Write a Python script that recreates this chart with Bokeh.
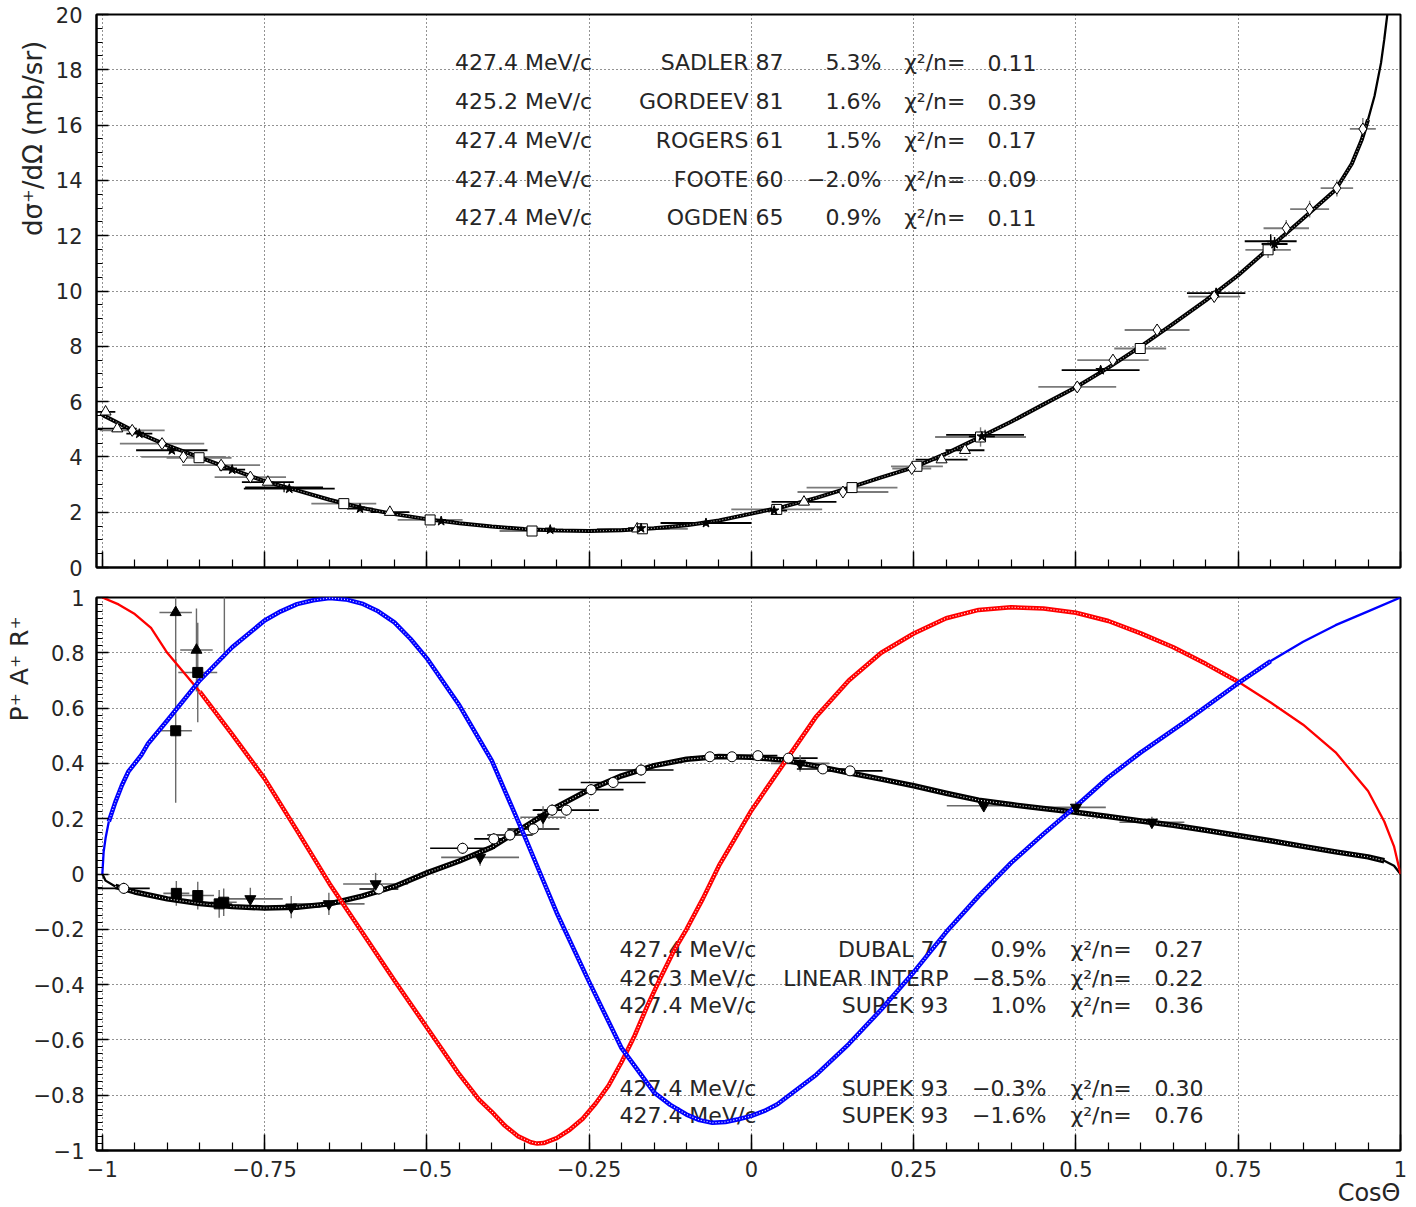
from bokeh.core.properties import value
from bokeh.embed import file_html
from bokeh.layouts import column
from bokeh.models import FixedTicker, Range1d, Title
from bokeh.plotting import figure
from bokeh.resources import INLINE

FONT = "DejaVu Sans"
INK = "#262626"

# ---------------------------------------------------------------- axes
X_TICKS = [-1, -0.75, -0.5, -0.25, 0, 0.25, 0.5, 0.75, 1]
X_TICK_LABELS = ["\u22121", "\u22120.75", "\u22120.5", "\u22120.25", "0", "0.25", "0.5", "0.75", "1"]
XS_TICKS = [0, 2, 4, 6, 8, 10, 12, 14, 16, 18, 20]
POL_TICKS = [-1, -0.8, -0.6, -0.4, -0.2, 0, 0.2, 0.4, 0.6, 0.8, 1]
POL_TICK_LABELS = ["\u22121", "\u22120.8", "\u22120.6", "\u22120.4", "\u22120.2", "0",
                   "0.2", "0.4", "0.6", "0.8", "1"]

# ---------------------------------------------------------------- cross section fit
XS_COS = [-1.0, -0.95, -0.9, -0.85, -0.8, -0.75, -0.7, -0.65, -0.6, -0.55, -0.5, -0.45,
          -0.4, -0.35, -0.3, -0.25, -0.2, -0.15, -0.1, -0.05, 0.0, 0.05, 0.1, 0.15, 0.2,
          0.25, 0.3, 0.35, 0.4, 0.45, 0.5, 0.55, 0.6, 0.65, 0.7, 0.75, 0.8, 0.85, 0.9,
          0.925, 0.94, 0.95, 0.96, 0.97, 0.975, 0.98, 0.985]
XS_FIT = [5.52, 4.92, 4.42, 3.98, 3.55, 3.12, 2.79, 2.45, 2.15, 1.93, 1.75, 1.60,
          1.48, 1.39, 1.34, 1.32, 1.35, 1.42, 1.53, 1.70, 1.95, 2.20, 2.52, 2.88, 3.26,
          3.62, 4.12, 4.69, 5.27, 5.90, 6.52, 7.23, 8.00, 8.82, 9.66, 10.57, 11.60, 12.62,
          13.66, 14.60, 15.45, 16.20, 17.05, 18.25, 19.10, 20.06, 21.50]

# ---------------------------------------------------------------- cross section data
SADLER_COS = [-0.995, -0.977, -0.745, -0.557, -0.176, 0.081, 0.293, 0.329]
SADLER_XS = [5.63, 5.02, 3.09, 2.00, 1.40, 2.37, 3.90, 4.24]
SADLER_DCOS = [0.015, 0.03, 0.04, 0.03, 0.05, 0.05, 0.04, 0.03]
SADLER_DXS = [0.15, 0.10, 0.08, 0.05, 0.04, 0.06, 0.08, 0.10]

GORDEEV_COS = [-0.851, -0.628, -0.495, -0.338, -0.168, 0.039, 0.155, 0.255, 0.353, 0.599, 0.796]
GORDEEV_XS = [3.97, 2.31, 1.72, 1.32, 1.40, 2.10, 2.89, 3.66, 4.72, 7.92, 11.49]
GORDEEV_DCOS = [0.05, 0.05, 0.05, 0.05, 0.07, 0.07, 0.07, 0.04, 0.07, 0.04, 0.035]
GORDEEV_DXS = [0.08, 0.05, 0.04, 0.04, 0.04, 0.05, 0.06, 0.08, 0.35, 0.15, 0.30]

ROGERS_COS = [-0.943, -0.893, -0.80, -0.712, -0.603, -0.478, -0.31, -0.17, -0.07, 0.035,
              0.355, 0.538, 0.716, 0.806]
ROGERS_XS = [4.84, 4.24, 3.54, 2.85, 2.13, 1.68, 1.37, 1.42, 1.61, 2.06, 4.74, 7.14, 9.92, 11.70]
ROGERS_DCOS = [0.02, 0.055, 0.02, 0.07, 0.02, 0.02, 0.02, 0.02, 0.07, 0.02, 0.02, 0.06, 0.045, 0.02]
ROGERS_DXS = [0.08, 0.08, 0.06, 0.06, 0.04, 0.04, 0.03, 0.03, 0.04, 0.05, 0.10, 0.15, 0.20, 0.25]

FOOTE_COS = [-0.954, -0.908, -0.875, -0.817, -0.772, 0.141, 0.247, 0.502, 0.557, 0.625,
             0.713, 0.824, 0.86, 0.902, 0.942]
FOOTE_XS = [4.96, 4.48, 4.00, 3.70, 3.27, 2.73, 3.58, 6.53, 7.50, 8.59, 9.80, 12.27,
            12.96, 13.72, 15.86]
FOOTE_DCOS = [0.05, 0.065, 0.065, 0.06, 0.055, 0.07, 0.03, 0.06, 0.055, 0.05, 0.04,
              0.035, 0.03, 0.025, 0.02]
FOOTE_DXS = [0.10, 0.10, 0.20, 0.10, 0.08, 0.06, 0.08, 0.15, 0.20, 0.20, 0.20, 0.30,
             0.30, 0.30, 0.40]

OGDEN_COS = [-0.72, 0.36, 0.80]
OGDEN_XS = [2.90, 4.80, 11.80]
OGDEN_DCOS = [0.06, 0.06, 0.04]
OGDEN_DXS = [0.08, 0.12, 0.25]

XS_MOMENTA = ["427.4  MeV/c", "425.2  MeV/c", "427.4  MeV/c", "427.4  MeV/c", "427.4  MeV/c"]
XS_REFS = ["SADLER 87", "GORDEEV 81", "ROGERS 61", "FOOTE 60", "OGDEN 65"]
XS_NORMS = ["5.3%", "1.6%", "1.5%", "\u22122.0%", "0.9%"]
XS_CHI2 = ["0.11", "0.39", "0.17", "0.09", "0.11"]

# ---------------------------------------------------------------- spin observables
POL_COS = [-1.0, -0.995, -0.98, -0.95, -0.9, -0.85, -0.8, -0.75, -0.7, -0.65, -0.6, -0.55,
           -0.5, -0.45, -0.4, -0.35, -0.3, -0.25, -0.2, -0.15, -0.1, -0.05, 0.0, 0.05,
           0.1, 0.15, 0.2, 0.25, 0.3, 0.35, 0.4, 0.45, 0.5, 0.55, 0.6, 0.65, 0.7, 0.75,
           0.8, 0.85, 0.9, 0.95, 0.975, 0.99, 1.0]
P_FIT = [0.0, -0.024, -0.045, -0.065, -0.09, -0.107, -0.118, -0.123, -0.12, -0.108, -0.08,
         -0.045, 0.004, 0.047, 0.097, 0.17, 0.243, 0.305, 0.355, 0.392, 0.415, 0.425, 0.422,
         0.412, 0.39, 0.366, 0.343, 0.319, 0.292, 0.267, 0.251, 0.237, 0.223, 0.208, 0.192,
         0.176, 0.158, 0.139, 0.12, 0.10, 0.08, 0.062, 0.048, 0.03, 0.0]

A_COS = [-1.0, -0.975, -0.95, -0.925, -0.9, -0.85, -0.8, -0.75, -0.7, -0.65, -0.6, -0.55,
         -0.5, -0.45, -0.42, -0.4, -0.38, -0.36, -0.34, -0.33, -0.32, -0.3, -0.28, -0.26,
         -0.24, -0.22, -0.2, -0.18, -0.16, -0.14, -0.12, -0.1, -0.075, -0.05, -0.025, 0.0,
         0.05, 0.1, 0.15, 0.2, 0.25, 0.3, 0.35, 0.4, 0.45, 0.5, 0.55, 0.6, 0.65, 0.7, 0.75,
         0.8, 0.85, 0.9, 0.95, 0.975, 0.99, 1.0]
A_FIT = [1.0, 0.975, 0.94, 0.89, 0.80, 0.66, 0.505, 0.345, 0.157, -0.035, -0.21, -0.385,
         -0.555, -0.725, -0.815, -0.86, -0.91, -0.948, -0.97, -0.975, -0.973, -0.955,
         -0.925, -0.885, -0.83, -0.765, -0.68, -0.585, -0.475, -0.375, -0.28, -0.2, -0.09,
         0.03, 0.13, 0.23, 0.40, 0.57, 0.70, 0.80, 0.87, 0.925, 0.955, 0.965, 0.96, 0.945,
         0.915, 0.87, 0.82, 0.76, 0.695, 0.62, 0.54, 0.44, 0.30, 0.19, 0.10, 0.0]

R_COS = [-1.0, -0.998, -0.995, -0.99, -0.98, -0.97, -0.96, -0.94, -0.93, -0.9, -0.85, -0.8,
         -0.75, -0.725, -0.7, -0.675, -0.65, -0.625, -0.6, -0.575, -0.55, -0.525, -0.5,
         -0.45, -0.4, -0.35, -0.325, -0.3, -0.25, -0.2, -0.15, -0.125, -0.1, -0.08, -0.06,
         -0.04, -0.02, 0.0, 0.02, 0.04, 0.1, 0.15, 0.2, 0.25, 0.3, 0.35, 0.4, 0.45, 0.5,
         0.55, 0.6, 0.67, 0.75, 0.8, 0.85, 0.9, 0.95, 1.0]
R_FIT = [0.0, 0.08, 0.13, 0.19, 0.26, 0.32, 0.37, 0.43, 0.47, 0.555, 0.70, 0.82, 0.917,
         0.95, 0.976, 0.99, 0.998, 0.993, 0.978, 0.95, 0.91, 0.85, 0.78, 0.61, 0.41, 0.14,
         0.0, -0.14, -0.39, -0.63, -0.79, -0.835, -0.87, -0.89, -0.90, -0.897, -0.887,
         -0.875, -0.857, -0.833, -0.726, -0.615, -0.49, -0.355, -0.21, -0.08, 0.04, 0.145,
         0.245, 0.35, 0.44, 0.554, 0.69, 0.77, 0.84, 0.90, 0.95, 1.0]

DUBAL_COS = [-0.967, -0.574, -0.445, -0.397, -0.372, -0.336, -0.307, -0.285, -0.247, -0.213,
             -0.17, -0.064, -0.03, 0.01, 0.057, 0.11, 0.152]
DUBAL_P = [-0.052, -0.054, 0.093, 0.127, 0.141, 0.163, 0.231, 0.231, 0.305, 0.331, 0.376,
           0.424, 0.424, 0.428, 0.419, 0.38, 0.373]
DUBAL_DCOS = [0.04, 0.03, 0.05, 0.03, 0.035, 0.04, 0.03, 0.05, 0.05, 0.05, 0.05, 0.03,
              0.03, 0.03, 0.045, 0.04, 0.05]
DUBAL_DP = [0.02, 0.02, 0.02, 0.02, 0.02, 0.02, 0.02, 0.02, 0.02, 0.02, 0.02, 0.015,
            0.015, 0.015, 0.015, 0.015, 0.015]

INTERP_COS = [-0.772, -0.709, -0.651, -0.579, -0.418, -0.321, 0.075, 0.358, 0.5, 0.617]
INTERP_P = [-0.09, -0.12, -0.108, -0.036, 0.06, 0.205, 0.40, 0.247, 0.241, 0.187]
INTERP_DCOS = [0.05, 0.045, 0.055, 0.05, 0.06, 0.035, 0.045, 0.057, 0.046, 0.05]
INTERP_DP = [0.04, 0.04, 0.04, 0.04, 0.03, 0.04, 0.03, 0.02, 0.02, 0.02]

SUPEK_P_COS = [-0.886, -0.853, -0.813, -0.820]
SUPEK_P = [-0.07, -0.078, -0.102, -0.108]
SUPEK_P_DCOS = [0.02, 0.025, 0.02, 0.02]
SUPEK_P_DP = [0.045, 0.05, 0.05, 0.05]

SUPEK_A_COS = [-0.887, -0.853]
SUPEK_A = [0.518, 0.729]
SUPEK_A_DCOS = [0.025, 0.03]
SUPEK_A_DP = [0.26, 0.18]

SUPEK_R_COS = [-0.887, -0.855, -0.812]
SUPEK_R = [0.946, 0.81, 1.05]
SUPEK_R_DCOS = [0.025, 0.025, 0.02]
SUPEK_R_DP = [0.20, 0.15, 0.27]

POL_MOMENTA = ["427.4  MeV/c", "426.3  MeV/c", "427.4  MeV/c", "427.4  MeV/c", "427.4  MeV/c"]
POL_REFS = ["DUBAL 77", "LINEAR INTERP", "SUPEK 93", "SUPEK 93", "SUPEK 93"]
POL_NORMS = ["0.9%", "\u22128.5%", "1.0%", "\u22120.3%", "\u22121.6%"]
POL_CHI2 = ["0.27", "0.22", "0.36", "0.30", "0.76"]


def frange(start, stop, step):
    n = int(round((stop - start) / step))
    return [round(start + i * step, 6) for i in range(n + 1)]


def make_panel(height, y_range, border_top, border_bottom, label_standoff):
    p = figure(width=1416, height=height, x_range=Range1d(-1.009, 1.0), y_range=y_range,
               output_backend="svg", toolbar_location=None,
               min_border_left=96, min_border_right=16,
               min_border_top=border_top, min_border_bottom=border_bottom,
               background_fill_color="white", border_fill_color="white")
    p.outline_line_color = "black"
    p.outline_line_width = 2
    for ax in (p.xaxis[0], p.yaxis[0]):
        ax.axis_line_width = 2
        ax.major_tick_out = 0
        ax.minor_tick_out = 0
        ax.major_tick_line_width = 1.5
        ax.minor_tick_line_width = 1.2
        ax.major_label_text_font = FONT
        ax.major_label_text_font_size = "21px"
        ax.major_label_text_color = INK
    xt = FixedTicker(ticks=X_TICKS, minor_ticks=frange(-1.0, 1.0, 0.05))
    p.xaxis.ticker = xt
    p.xgrid.ticker = xt
    p.xaxis.major_tick_in = 16
    p.xaxis.minor_tick_in = 8
    p.yaxis.major_tick_in = 12
    p.yaxis.minor_tick_in = 6
    p.yaxis.major_label_standoff = label_standoff
    for g in (p.xgrid[0], p.ygrid[0]):
        g.grid_line_color = "black"
        g.grid_line_dash = "1 3"
        g.grid_line_width = 1
        g.grid_line_alpha = 0.85
    return p


def axis_title(text, align, offset, standoff, size):
    return Title(text=text, align=align, offset=offset, standoff=standoff,
                 text_font=FONT, text_font_size=size, text_font_style="normal",
                 text_color=INK)


def error_bars(p, xs, ys, dxs, dys, color, width=1.8):
    p.segment([x - d for x, d in zip(xs, dxs)], ys, [x + d for x, d in zip(xs, dxs)], ys,
              line_color=color, line_width=width)
    p.segment(xs, [y - d for y, d in zip(ys, dys)], xs, [y + d for y, d in zip(ys, dys)],
              line_color=color, line_width=1.4)


def band_curve(p, xs, ys, color, inner, lo, hi, width):
    bx = [x for x in xs if lo <= x <= hi]
    by = [y for x, y in zip(xs, ys) if lo <= x <= hi]
    p.line(xs, ys, line_color=color, line_width=2.3)
    p.line(bx, by, line_color=color, line_width=width, line_join="round")
    p.line(bx, by, line_color=inner, line_width=1.1, line_dash="1 2")


def table_rows(p, rows_y, x_mom, x_ref, x_norm, x_chi, x_val, momenta, refs, norms, chi2):
    common = dict(text_font=value(FONT), text_font_size="22px", text_color=INK,
                  text_baseline="middle")
    p.text([x_mom] * len(rows_y), rows_y, text=momenta, text_align="left", **common)
    p.text([x_ref] * len(rows_y), rows_y, text=refs, text_align="right", **common)
    p.text([x_norm] * len(rows_y), rows_y, text=norms, text_align="right", **common)
    p.text([x_chi] * len(rows_y), rows_y, text=["\u03c7\u00b2/n="] * len(rows_y),
           text_align="left", **common)
    p.text([x_val] * len(rows_y), rows_y, text=chi2, text_align="right", **common)


# ================================================================ upper panel
top = make_panel(582, Range1d(0, 20), 14, 15, 14)
top.yaxis.ticker = FixedTicker(ticks=XS_TICKS, minor_ticks=frange(0, 20, 0.5))
top.ygrid.ticker = top.yaxis[0].ticker
top.xaxis.major_label_overrides = {t: "" for t in X_TICKS}
top.xaxis.major_label_standoff = 0

table_rows(top, [18.25, 16.85, 15.45, 14.05, 12.65], -0.4565, 0.0493, 0.2003, 0.2353, 0.4391,
           XS_MOMENTA, XS_REFS, XS_NORMS, XS_CHI2)

error_bars(top, SADLER_COS, SADLER_XS, SADLER_DCOS, SADLER_DXS, "black")
error_bars(top, GORDEEV_COS, GORDEEV_XS, GORDEEV_DCOS, GORDEEV_DXS, "#7a7a7a")
error_bars(top, ROGERS_COS, ROGERS_XS, ROGERS_DCOS, ROGERS_DXS, "black")
error_bars(top, FOOTE_COS, FOOTE_XS, FOOTE_DCOS, FOOTE_DXS, "#7a7a7a")
error_bars(top, OGDEN_COS, OGDEN_XS, OGDEN_DCOS, OGDEN_DXS, "black")

band_curve(top, XS_COS, XS_FIT, "black", "#b0b0b0", -1.0, 0.95, 4)

top.scatter(SADLER_COS, SADLER_XS, marker="triangle", size=11, fill_color="white",
            line_color="black", line_width=1)
top.scatter(GORDEEV_COS, GORDEEV_XS, marker="square", size=10, fill_color="white",
            line_color="black", line_width=1)
top.scatter(ROGERS_COS, ROGERS_XS, marker="star", size=10, fill_color="black",
            line_color="black")
top.scatter(FOOTE_COS, FOOTE_XS, marker="diamond", size=12, fill_color="white",
            line_color="black", line_width=1)
top.scatter(OGDEN_COS, OGDEN_XS, marker="cross", size=10, line_color="black", line_width=1.2)

top.add_layout(axis_title("d\u03c3\u207a/d\u03a9  (mb/sr)", "right", 18, 9, "26px"), "left")

# ================================================================ lower panel
bot = make_panel(625, Range1d(-1, 1), 15, 57, 12)
bot.yaxis.ticker = FixedTicker(ticks=POL_TICKS, minor_ticks=frange(-1, 1, 0.025))
bot.ygrid.ticker = bot.yaxis[0].ticker
bot.xaxis.major_label_overrides = dict(zip(X_TICKS, X_TICK_LABELS))
bot.yaxis.major_label_overrides = dict(zip(POL_TICKS, POL_TICK_LABELS))
bot.xaxis.major_label_standoff = 10

table_rows(bot, [-0.272, -0.377, -0.474, -0.775, -0.873], -0.2034, 0.3035, 0.4545, 0.4915,
           0.6965, POL_MOMENTA, POL_REFS, POL_NORMS, POL_CHI2)

error_bars(bot, DUBAL_COS, DUBAL_P, DUBAL_DCOS, DUBAL_DP, "black", 1.6)
error_bars(bot, INTERP_COS, INTERP_P, INTERP_DCOS, INTERP_DP, "#6a6a6a", 1.6)
error_bars(bot, SUPEK_P_COS, SUPEK_P, SUPEK_P_DCOS, SUPEK_P_DP, "#6a6a6a", 1.6)
error_bars(bot, SUPEK_A_COS, SUPEK_A, SUPEK_A_DCOS, SUPEK_A_DP, "#6a6a6a", 1.6)
error_bars(bot, SUPEK_R_COS, SUPEK_R, SUPEK_R_DCOS, SUPEK_R_DP, "#6a6a6a", 1.6)

band_curve(bot, POL_COS, P_FIT, "black", "white", -0.99, 0.975, 5.5)
band_curve(bot, A_COS, A_FIT, "#ff0000", "white", -0.86, 0.76, 4.5)
band_curve(bot, R_COS, R_FIT, "#0000ff", "white", -0.99, 0.8, 4.5)

bot.scatter(DUBAL_COS, DUBAL_P, marker="circle", size=10, fill_color="white",
            line_color="black", line_width=1)
bot.scatter(INTERP_COS, INTERP_P, marker="inverted_triangle", size=11, fill_color="black",
            line_color="black")
bot.scatter(SUPEK_P_COS, SUPEK_P, marker="square", size=10, fill_color="black",
            line_color="black")
bot.scatter(SUPEK_A_COS, SUPEK_A, marker="square", size=10, fill_color="black",
            line_color="black")
bot.scatter(SUPEK_R_COS, SUPEK_R, marker="triangle", size=11, fill_color="black",
            line_color="black")

bot.add_layout(axis_title("P\u207a  A\u207a  R\u207a", "right", 3, -7, "25px"), "left")
bot.add_layout(axis_title("Cos\u0398", "right", 0, -6, "24px"), "below")

page = column(top, bot, spacing=0)
open("out.html", "w").write(file_html(page, INLINE))
